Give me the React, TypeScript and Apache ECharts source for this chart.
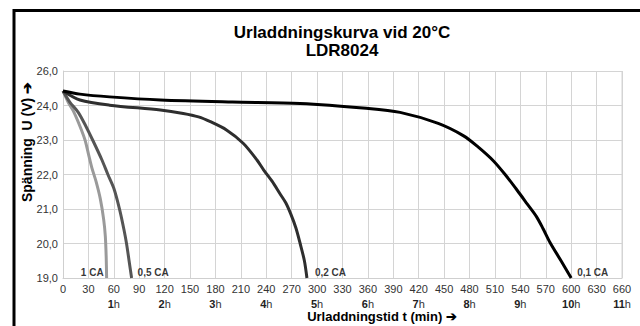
import React, { useEffect, useRef } from "react";
import * as echarts from "echarts";

const yTickLabels = ["19,0", "20,0", "21,0", "22,0", "23,0", "24,0", "26,0"];

const ca01: [number, number][] = [
  [0, 24.42], [20, 24.33], [55, 24.25], [115, 24.16], [200, 24.1], [280, 24.06],
  [358, 23.92], [398, 23.8], [443, 23.48], [473, 23.12], [490, 22.8], [508, 22.4],
  [522, 22.0], [536, 21.55], [548, 21.15], [559, 20.78], [567, 20.42], [575, 20.03],
  [588, 19.5], [600, 19.0],
];
const ca02: [number, number][] = [
  [0, 24.42], [20, 24.16], [55, 24.01], [115, 23.87], [142, 23.77], [160, 23.67],
  [174, 23.53], [193, 23.29], [213, 22.9], [229, 22.42], [237, 22.13], [247, 21.8],
  [256, 21.45], [263, 21.18], [269, 20.85], [275, 20.45], [280, 20.0], [285, 19.5],
  [288, 19.0],
];
const ca05: [number, number][] = [
  [0, 24.42], [8, 24.1], [18, 23.8], [27, 23.4], [35, 23.0], [46, 22.42],
  [53, 22.0], [60, 21.6], [67, 20.97], [72, 20.4], [75, 20.0], [78, 19.5], [81, 19.0],
];
const ca1: [number, number][] = [
  [0, 24.42], [6, 24.1], [12, 23.85], [20, 23.4], [26, 23.0], [30, 22.6],
  [34, 22.2], [39, 21.8], [44, 21.3], [48, 20.7], [50, 20.2], [51, 19.6], [51.5, 19.0],
];

const seriesNames = ["0,1 CA", "0,2 CA", "0,5 CA", "1 CA"];
const seriesColors = ["#000000", "#2e2e2e", "#555555", "#9a9a9a"];
const labelSides = ["right", "right", "right", "left"];
const titleLines = ["Urladdningskurva vid 20°C", "LDR8024"];
const xAxisName = "Urladdningstid t (min) ➔";
const yAxisName = "Spänning  U (V) ➔";

export default function App() {
  const ref = useRef<HTMLDivElement>(null);
  useEffect(() => {
    document.body.style.margin = "0";
    if (!ref.current) return;
    const chart = echarts.init(ref.current, null, { renderer: "svg" });
    const datasets = [ca01, ca02, ca05, ca1];
    const font = "'Liberation Sans', Arial, sans-serif";
    const lineSeries = datasets.map((d, i) => ({
      type: "line",
      name: seriesNames[i],
      data: d,
      smooth: 0.3,
      showSymbol: false,
      symbol: "none",
      lineStyle: { color: seriesColors[i], width: 3 },
      z: 10 - i,
    }));
    const labelSeries = {
      type: "scatter",
      data: datasets.map((d, i) => ({
        value: d[d.length - 1],
        label: {
          show: true,
          position: labelSides[i],
          distance: i === 3 ? 2 : i === 1 ? 7 : 5,
          offset: [0, -6],
          formatter: seriesNames[i],
          color: "#000",
          fontWeight: "bold",
          fontSize: 10,
          fontFamily: font,
        },
      })),
      symbolSize: 2,
      itemStyle: { color: "rgba(0,0,0,0)" },
      silent: true,
      clip: false,
      z: 20,
    };
    chart.setOption({
      animation: false,
      textStyle: { fontFamily: font },
      grid: { left: 63, right: 18, top: 71, bottom: 48, containLabel: false },
      xAxis: {
        type: "value",
        min: 0,
        max: 660,
        interval: 30,
        axisLine: { lineStyle: { color: "#cfcfcf", width: 1 } },
        axisTick: { show: false },
        splitLine: { lineStyle: { color: "#d4d4d4", width: 1 } },
        axisLabel: {
          color: "#333",
          fontSize: 11,
          margin: 3,
          lineHeight: 15,
          verticalAlign: "top",
          formatter: (v: number) =>
            v > 0 && v % 60 === 0 ? `${v}\n{b|${v / 60}}{h|h}` : `${v}`,
          rich: {
            b: { fontWeight: "bold", fontSize: 11, color: "#222", fontFamily: font, lineHeight: 15 },
            h: { fontSize: 11, color: "#333", fontFamily: font, lineHeight: 15 },
          },
        },
      },
      yAxis: {
        type: "value",
        min: 19,
        max: 25,
        interval: 1,
        axisLine: { show: true, lineStyle: { color: "#cfcfcf", width: 1 } },
        axisTick: { show: false },
        splitLine: { lineStyle: { color: "#d4d4d4", width: 1 } },
        axisLabel: {
          color: "#333",
          fontSize: 11,
          margin: 5,
          formatter: (v: number) => yTickLabels[Math.round(v - 19)],
        },
      },
      graphic: [
        {
          type: "rect",
          shape: { x: 14, y: 10.5, width: 700, height: 400 },
          style: { fill: "none", stroke: "#000", lineWidth: 3 },
          silent: true,
        },
        {
          type: "line",
          shape: { x1: 622, y1: 71, x2: 622, y2: 278 },
          style: { stroke: "#d4d4d4", lineWidth: 1 },
          silent: true,
        },
        {
          type: "text",
          x: 342,
          y: 32,
          style: { text: titleLines[0], font: `bold 17px ${font}`, fill: "#000", textAlign: "center", textVerticalAlign: "middle" },
          silent: true,
        },
        {
          type: "text",
          x: 342,
          y: 50,
          style: { text: titleLines[1], font: `bold 17px ${font}`, fill: "#000", textAlign: "center", textVerticalAlign: "middle" },
          silent: true,
        },
        {
          type: "text",
          x: 382,
          y: 316,
          style: { text: xAxisName, font: `bold 13px ${font}`, fill: "#000", textAlign: "center", textVerticalAlign: "middle" },
          silent: true,
        },
        {
          type: "text",
          x: 27,
          y: 142,
          rotation: Math.PI / 2,
          style: { text: yAxisName, font: `bold 14px ${font}`, fill: "#000", textAlign: "center", textVerticalAlign: "middle" },
          silent: true,
        },
      ],
      series: [...lineSeries, labelSeries],
    });
    return () => chart.dispose();
  }, []);
  return <div ref={ref} style={{ width: 640, height: 326 }} />;
}
